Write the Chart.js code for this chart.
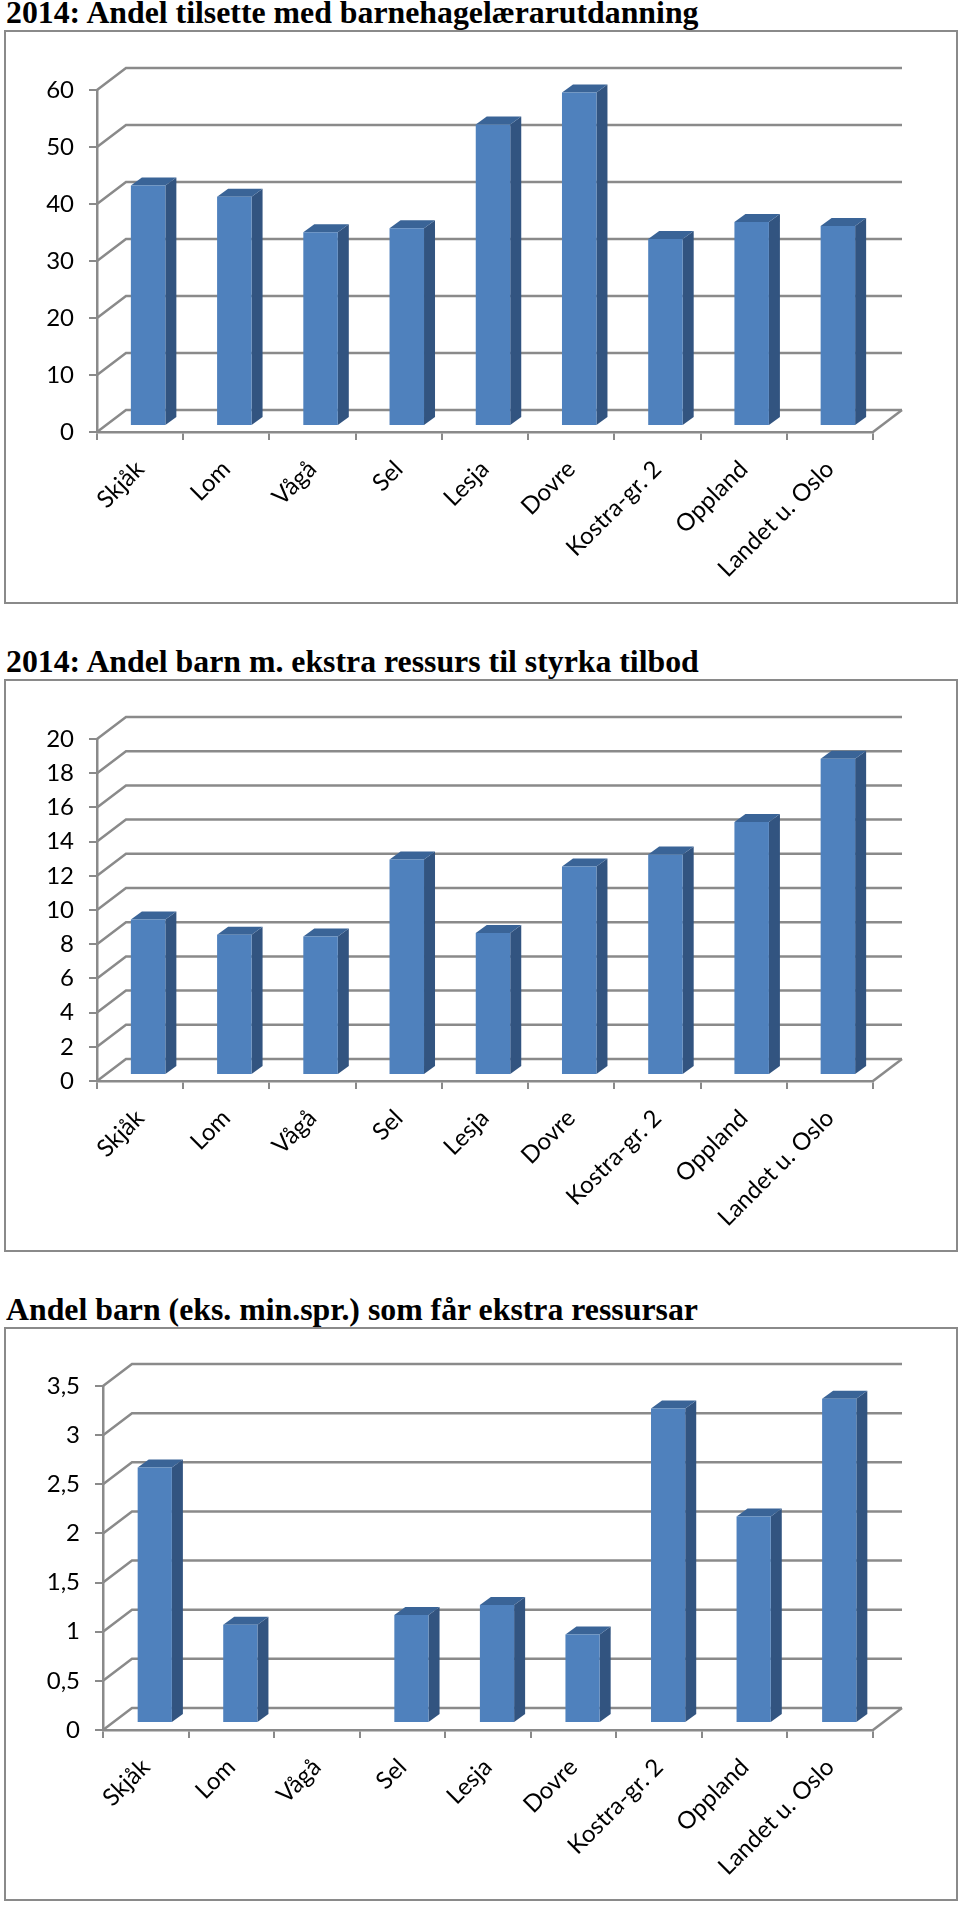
<!DOCTYPE html>
<html>
<head>
<meta charset="utf-8">
<script src="https://cdn.jsdelivr.net/npm/chart.js@4"></script>
<style>
    html, body { margin: 0; padding: 0; background: #fff; }
    body { position: relative; width: 960px; height: 1905px; overflow: hidden; }
    h2 {
        position: absolute; left: 6px; margin: 0; white-space: nowrap;
        font: bold 31.8px "Liberation Serif", serif; line-height: 30px; color: #000;
    }
    .frame { position: absolute; left: 4px; width: 950px; border: 2px solid #8a8a8a; background: #fff; }
    canvas { position: absolute; left: 0; top: 0; }
</style>
</head>
<body>
<h2 style="top:-2px">2014: Andel tilsette med barnehagelærarutdanning</h2>
<div class="frame" style="top:30px;height:570px"><canvas id="chart-tilsette" width="950" height="570"></canvas></div>
<h2 style="top:647px">2014: Andel barn m. ekstra ressurs til styrka tilbod</h2>
<div class="frame" style="top:679px;height:569px"><canvas id="chart-ressurs" width="950" height="569"></canvas></div>
<h2 style="top:1295px">Andel barn (eks. min.spr.) som får ekstra ressursar</h2>
<div class="frame" style="top:1327px;height:570px"><canvas id="chart-ekstra" width="950" height="570"></canvas></div>
<script>
var categories = ['Skjåk', 'Lom', 'Vågå', 'Sel', 'Lesja', 'Dovre', 'Kostra-gr. 2', 'Oppland', 'Landet u. Oslo'];

var tilsetteValues = [42.2, 40.2, 34, 34.7, 52.9, 58.5, 32.8, 35.8, 35.1];
var ressursValues = [9.1, 8.2, 8.1, 12.6, 8.3, 12.2, 12.9, 14.8, 18.5];
var ekstraValues = [2.6, 1, null, 1.1, 1.2, 0.9, 3.2, 2.1, 3.3];

var tilsetteTicks = [0, 10, 20, 30, 40, 50, 60];
var ressursTicks = [0, 2, 4, 6, 8, 10, 12, 14, 16, 18, 20];
var ekstraTicks = [0, 0.5, 1, 1.5, 2, 2.5, 3, 3.5];

var front = '#4f81bd';
var side = '#325480';
var top3d = '#3a6497';
var line = '#8a8a8a';

// 3d look: the back wall sits up and to the right of the axes, bars are pushed a bit off the floor edge
var depth3d = {
    id: 'depth3d',
    beforeDatasetsDraw: function (chart) {
        var o = chart.options.plugins.depth3d;
        var ctx = chart.ctx, area = chart.chartArea, y = chart.scales.y;
        ctx.save();
        ctx.strokeStyle = line;
        ctx.lineWidth = 2.5;
        y.ticks.forEach(function (t) {
            var py = y.getPixelForValue(t.value);
            ctx.beginPath();
            ctx.moveTo(area.left, py);
            ctx.lineTo(area.left + o.wallX, py - o.wallY);
            ctx.lineTo(area.right + o.wallX, py - o.wallY);
            ctx.stroke();
        });
        ctx.beginPath();
        ctx.moveTo(area.right, area.bottom);
        ctx.lineTo(area.right + o.wallX, area.bottom - o.wallY);
        ctx.stroke();
        ctx.restore();
    },
    beforeDatasetDraw: function (chart, args) {
        var o = chart.options.plugins.depth3d;
        var ctx = chart.ctx;
        ctx.save();
        ctx.translate(o.barX, -o.barY);
        args.meta.data.forEach(function (bar, i) {
            if (chart.data.datasets[args.index].data[i] === null) return;
            var p = bar.getProps(['x', 'y', 'base', 'width'], true);
            var l = p.x - p.width / 2, r = p.x + p.width / 2;
            ctx.fillStyle = side;
            ctx.beginPath();
            ctx.moveTo(r, p.y);
            ctx.lineTo(r + o.depthX, p.y - o.depthY);
            ctx.lineTo(r + o.depthX, p.base - o.depthY);
            ctx.lineTo(r, p.base);
            ctx.closePath();
            ctx.fill();
            ctx.fillStyle = top3d;
            ctx.beginPath();
            ctx.moveTo(l, p.y);
            ctx.lineTo(l + o.depthX, p.y - o.depthY);
            ctx.lineTo(r + o.depthX, p.y - o.depthY);
            ctx.lineTo(r, p.y);
            ctx.closePath();
            ctx.fill();
        });
    },
    afterDatasetDraw: function (chart) {
        chart.ctx.restore();
    }
};

function drawChart(id, values, ticks, box) {
    new Chart(document.getElementById(id), {
        type: 'bar',
        data: {
            labels: categories,
            datasets: [{
                data: values,
                backgroundColor: front,
                borderWidth: 0,
                categoryPercentage: 1,
                barPercentage: 0.4,
                clip: false
            }]
        },
        plugins: [depth3d],
        options: {
            responsive: false,
            animation: false,
            layout: { padding: { left: 0, top: box.top, right: box.right, bottom: 0 } },
            plugins: {
                legend: { display: false },
                tooltip: { enabled: false },
                depth3d: { wallX: 29, wallY: 22, barX: box.barX, barY: box.barY, depthX: 11, depthY: 8 }
            },
            scales: {
                x: {
                    afterFit: function (s) { s.height = box.bottom; },
                    border: { color: line, width: 2.5 },
                    grid: { drawOnChartArea: false, color: line, lineWidth: 2, tickLength: 8 },
                    ticks: {
                        color: '#000',
                        font: { family: 'Lato', size: 24 },
                        minRotation: 45,
                        maxRotation: 45,
                        autoSkip: false,
                        labelOffset: 0,
                        padding: 15
                    }
                },
                y: {
                    min: ticks[0],
                    max: ticks[ticks.length - 1],
                    afterFit: function (s) { s.width = box.left; },
                    afterBuildTicks: function (s) {
                        s.ticks = ticks.map(function (v) { return { value: v }; });
                    },
                    border: { color: line, width: 2.5 },
                    grid: { drawOnChartArea: false, color: line, lineWidth: 2, tickLength: 8 },
                    ticks: {
                        color: '#000',
                        font: { family: 'Lato', size: 24 },
                        padding: 15,
                        callback: function (v) { return String(v).replace('.', ','); }
                    }
                }
            }
        }
    });
}

drawChart('chart-tilsette', tilsetteValues, tilsetteTicks, { left: 91, top: 58, right: 83, bottom: 170, barX: 8, barY: 6 });
drawChart('chart-ressurs', ressursValues, ressursTicks, { left: 91, top: 58, right: 83, bottom: 169, barX: 8, barY: 6 });
drawChart('chart-ekstra', ekstraValues, ekstraTicks, { left: 97, top: 57, right: 83, bottom: 169, barX: 9, barY: 7 });
</script>
</body>
</html>
